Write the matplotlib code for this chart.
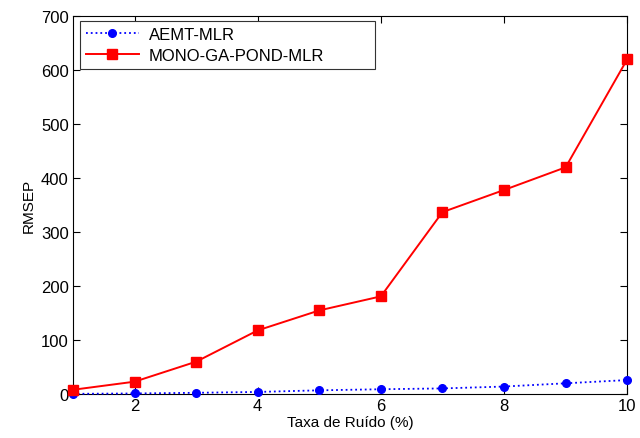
import matplotlib
matplotlib.use("Agg")
from matplotlib import pyplot as plt

plt.rcParams['font.family'] = ['Liberation Sans', 'DejaVu Sans']

taxa = [1, 2, 3, 4, 5, 6, 7, 8, 9, 10]
aemt_mlr = [0.5, 1.2, 2.4, 4, 7, 9, 10.5, 14, 20, 26]
mono_ga_pond_mlr = [8, 23, 60, 118, 155, 181, 337, 378, 420, 620]

fig = plt.figure(figsize=(6.4, 4.39), dpi=100)
ax = fig.add_axes([0.114, 0.1, 0.866, 0.861])

ax.plot(taxa, aemt_mlr, color="blue", linestyle=":", marker="o", markersize=5.5,
        linewidth=1.3, label="AEMT-MLR", clip_on=False, zorder=3)
ax.plot(taxa, mono_ga_pond_mlr, color="red", linestyle="-", marker="s", markersize=6.5,
        linewidth=1.4, label="MONO-GA-POND-MLR", clip_on=False, zorder=3)

ax.set_xlim(1, 10)
ax.set_ylim(0, 700)
ax.set_xticks([2, 4, 6, 8, 10])
ax.set_yticks(range(0, 701, 100))
ax.tick_params(direction="in", top=True, right=True, labelsize=12, length=5, pad=3)
ax.set_xlabel("Taxa de Ruído (%)", fontsize=11, labelpad=1)
ax.set_ylabel("RMSEP", fontsize=11, labelpad=4)

# MATLAB-style legend box, stretched to the width seen in the original
leg = ax.legend(loc="upper left", bbox_to_anchor=(0.0126, 0.0, 0.532, 0.987),
                mode="expand", borderaxespad=0, fontsize=12, fancybox=False,
                framealpha=1, edgecolor="#333333", handlelength=3.2,
                borderpad=0.35, labelspacing=0.35, handletextpad=0.6)
leg.get_frame().set_linewidth(0.8)

fig.savefig("out.png", dpi=100)
